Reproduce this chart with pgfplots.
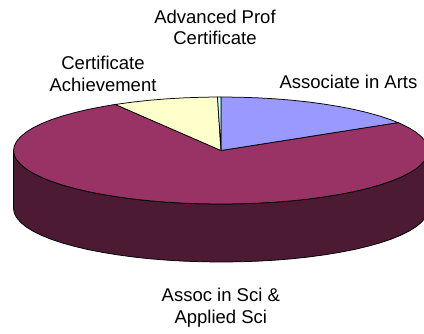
\documentclass[border=0pt]{standalone}
\usepackage{pgfplots}
\pgfplotsset{compat=1.18}
\usepackage{fontspec}
\setmainfont{Liberation Sans}
\definecolor{pieblue}{HTML}{9999FF}
\definecolor{piemaroon}{HTML}{993366}
\definecolor{pieside}{HTML}{4C1A33}
\definecolor{pieyellow}{HTML}{FFFFCC}
\definecolor{piecyan}{HTML}{CCFFFF}
\begin{document}
\begin{tikzpicture}
\useasboundingbox (0,0) rectangle (424pt,333pt);
\begin{axis}[
    at={(0,0)}, anchor=south west,
    scale only axis,
    width=424pt, height=333pt,
    xmin=0, xmax=424,
    ymin=0, ymax=333,
    y dir=reverse,
    hide axis,
    every axis plot/.append style={line width=0.75pt, draw=black, no markers},
]
% side wall
\addplot[fill=pieside] coordinates {
    (13.5,150.5)(14.3,155.2)(16.7,159.8)(20.6,164.3)(26,168.8)(32.9,173.1)(41.3,177.3)(51,181.2)(62,184.9)(74.3,188.3)(87.6,191.5)(102,194.3)(117.2,196.8)(133.3,199)(150,200.8)(167.3,202.2)(185,203.2)(202.9,203.8)(221,204)
    (239.1,203.8)(257,203.2)(274.7,202.2)(292,200.8)(308.7,199)(324.8,196.8)(340,194.3)(354.4,191.5)(367.7,188.3)(380,184.9)(391,181.2)(400.7,177.3)(409.1,173.1)(416,168.8)(421.4,164.3)(425.3,159.8)(427.7,155.2)(428.5,150.5)
    (428.5,208.5)(427.7,213.2)(425.3,217.8)(421.4,222.3)(416,226.8)(409.1,231.1)(400.7,235.3)(391,239.2)(380,242.9)(367.7,246.3)(354.4,249.5)(340,252.3)(324.8,254.8)(308.7,257)(292,258.8)(274.7,260.2)(257,261.2)(239.1,261.8)(221,262)
    (202.9,261.8)(185,261.2)(167.3,260.2)(150,258.8)(133.3,257)(117.2,254.8)(102,252.3)(87.6,249.5)(74.3,246.3)(62,242.9)(51,239.2)(41.3,235.3)(32.9,231.1)(26,226.8)(20.6,222.3)(16.7,217.8)(14.3,213.2)(13.5,208.5)
} --cycle;
% Assoc in Sci & Applied Sci
\addplot[fill=piemaroon] coordinates {
    (221,150.5)(115.2,104.4)(102,106.7)(87.6,109.5)(74.3,112.7)(62,116.1)(51,119.8)(41.3,123.7)(32.9,127.9)(26,132.2)(20.6,136.7)(16.7,141.2)(14.3,145.8)(13.5,150.5)
    (14.3,155.2)(16.7,159.8)(20.6,164.3)(26,168.8)(32.9,173.1)(41.3,177.3)(51,181.2)(62,184.9)(74.3,188.3)(87.6,191.5)(102,194.3)(117.2,196.8)(133.3,199)(150,200.8)(167.3,202.2)(185,203.2)(202.9,203.8)(221,204)
    (239.1,203.8)(257,203.2)(274.7,202.2)(292,200.8)(308.7,199)(324.8,196.8)(340,194.3)(354.4,191.5)(367.7,188.3)(380,184.9)(391,181.2)(400.7,177.3)(409.1,173.1)(416,168.8)(421.4,164.3)(425.3,159.8)(427.7,155.2)(428.5,150.5)
    (427.7,145.8)(425.3,141.2)(421.4,136.7)(416,132.2)(409.1,127.9)(400.7,123.7)(397.9,122.6)
} --cycle;
% Associate in Arts
\addplot[fill=pieblue] coordinates {
    (221,150.5)(221,97)(239.1,97.2)(257,97.8)(274.7,98.8)(292,100.2)(308.7,102)(324.8,104.2)(340,106.7)(354.4,109.5)(367.7,112.7)(380,116.1)(391,119.8)(397.9,122.6)
} --cycle;
% Certificate Achievement
\addplot[fill=pieyellow] coordinates {
    (221,150.5)(217.5,97)(202.9,97.2)(185,97.8)(167.3,98.8)(150,100.2)(133.3,102)(117.2,104.2)(115.2,104.4)
} --cycle;
% Advanced Prof Certificate
\addplot[fill=piecyan] coordinates {
    (221,150.5)(221,97)(217.5,97)
} --cycle;
\end{axis}
\begin{scope}[every node/.style={anchor=base, font=\fontsize{18.5}{22}\selectfont, inner sep=0pt}]
\node at (215pt,333pt-23.3pt) {Advanced Prof};
\node at (215pt,333pt-45pt) {Certificate};
\node at (103pt,333pt-69pt) {Certificate};
\node at (103pt,333pt-91.5pt) {Achievement};
\node at (348.5pt,333pt-88.5pt) {Associate in Arts};
\node at (220.8pt,333pt-301.7pt) {Assoc in Sci \&};
\node at (220.8pt,333pt-323.3pt) {Applied Sci};
\end{scope}
\end{tikzpicture}
\end{document}
